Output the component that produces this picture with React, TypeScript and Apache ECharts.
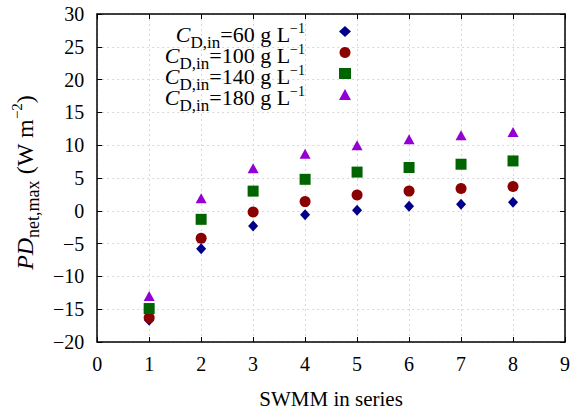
import React, { useEffect, useRef } from "react";
import * as echarts from "echarts";

const xValues = [1, 2, 3, 4, 5, 6, 7, 8];
const concentrations = ["60", "100", "140", "180"];
const pd60 = [-16.7, -5.8, -2.3, -0.6, 0.1, 0.7, 1.0, 1.3];
const pd100 = [-16.3, -4.2, -0.2, 1.4, 2.4, 3.0, 3.4, 3.7];
const pd140 = [-14.9, -1.3, 3.0, 4.8, 5.9, 6.6, 7.1, 7.6];
const pd180 = [-13.0, 1.9, 6.5, 8.7, 10.0, 10.9, 11.5, 12.0];
const seriesValues = [pd60, pd100, pd140, pd180];
const symbols = ["diamond", "circle", "rect", "triangle"];
const colors = ["#00008b", "#8b0000", "#006400", "#9400d3"];
const symbolSizes = [[10, 11], 11, 11, [11, 10]];

const FONT = "Liberation Serif";

export default function App() {
  const ref = useRef<HTMLDivElement>(null);
  useEffect(() => {
    if (!ref.current) return;
    const chart = echarts.init(ref.current, null, { renderer: "svg" });
    const gridLine = { show: true, lineStyle: { color: "#d8d8d8", type: [2, 3], width: 1 } };
    const baseAxisLine = { show: true, onZero: false, lineStyle: { color: "#000", width: 1.5 } };
    const tick = { show: true, inside: true, length: 5, lineStyle: { color: "#000", width: 1 } };
    const LH = 21.5;
    const legendRich = {
      i: { fontFamily: FONT, fontStyle: "italic", fontSize: 22, color: "#000", lineHeight: LH, padding: [6, 0, 0, 0] },
      t: { fontFamily: FONT, fontSize: 22, color: "#000", lineHeight: LH, padding: [6, 0, 0, 0] },
      s: { fontFamily: FONT, fontSize: 17, color: "#000", lineHeight: LH, padding: [22, 0, 0, 0] },
      p: { fontFamily: FONT, fontSize: 14, color: "#000", lineHeight: LH, padding: [0, 0, 6, 0] },
      sp: { width: 29, lineHeight: LH },
    };
    const NH = 24;
    const nameRich = {
      i: { fontFamily: FONT, fontStyle: "italic", fontSize: 24, color: "#000", lineHeight: NH },
      t: { fontFamily: FONT, fontSize: 24, color: "#000", lineHeight: NH },
      s: { fontFamily: FONT, fontSize: 18, color: "#000", lineHeight: NH, padding: [16, 0, 0, 0] },
      p: { fontFamily: FONT, fontSize: 15, color: "#000", lineHeight: NH, padding: [0, 0, 16, 0] },
      sp: { width: 9, lineHeight: NH },
    };
    chart.setOption({
      animation: false,
      backgroundColor: "#fff",
      textStyle: { fontFamily: FONT, color: "#000" },
      grid: { left: 96, right: 8, top: 14, bottom: 71, containLabel: false },
      legend: {
        orient: "vertical",
        right: 222,
        top: 12,
        padding: 0,
        align: "right",
        itemGap: -18,
        itemWidth: 12,
        itemHeight: 11,
        data: concentrations.map((c) => ({ name: c })),
        formatter: (name: string) => `{i|C}{s|D,in}{t|=${name} g L}{p|−1}{sp|}`,
        textStyle: { fontFamily: FONT, lineHeight: LH, rich: legendRich },
      },
      xAxis: [
        {
          type: "value",
          min: 0,
          max: 9,
          interval: 1,
          name: "SWMM in series",
          nameLocation: "middle",
          nameGap: 46,
          nameTextStyle: { fontFamily: FONT, fontSize: 21, color: "#000" },
          axisLine: baseAxisLine,
          axisTick: tick,
          axisLabel: { fontFamily: FONT, fontSize: 20, color: "#000", margin: 12 },
          splitLine: gridLine,
        },
        {
          type: "value",
          position: "top",
          min: 0,
          max: 9,
          interval: 1,
          axisLine: baseAxisLine,
          axisTick: tick,
          axisLabel: { show: false },
          splitLine: { show: false },
        },
      ],
      yAxis: [
        {
          type: "value",
          min: -20,
          max: 30,
          interval: 5,
          name: "{i|PD}{s|net,max}{t| (W m}{p|−2}{t|)}{sp|}",
          nameLocation: "middle",
          nameRotate: 90,
          nameGap: 47,
          nameTextStyle: { fontFamily: FONT, lineHeight: NH, rich: nameRich },
          axisLine: baseAxisLine,
          axisTick: tick,
          axisLabel: {
            fontFamily: FONT,
            fontSize: 20,
            color: "#000",
            margin: 13,
            formatter: (v: number) => (v < 0 ? "−" + Math.abs(v) : String(v)),
          },
          splitLine: gridLine,
        },
        {
          type: "value",
          position: "right",
          min: -20,
          max: 30,
          interval: 5,
          axisLine: baseAxisLine,
          axisTick: tick,
          axisLabel: { show: false },
          splitLine: { show: false },
        },
      ],
      series: concentrations.map((c, k) => ({
        name: c,
        type: "scatter",
        symbol: symbols[k],
        symbolSize: symbolSizes[k],
        itemStyle: { color: colors[k], opacity: 1 },
        data: xValues.map((x, i) => [x, seriesValues[k][i]]),
        z: 3 + k,
      })),
    });
    return () => chart.dispose();
  }, []);
  return (
    <div
      ref={ref}
      style={{ position: "fixed", left: 0, top: 0, width: 573, height: 414 }}
    />
  );
}
